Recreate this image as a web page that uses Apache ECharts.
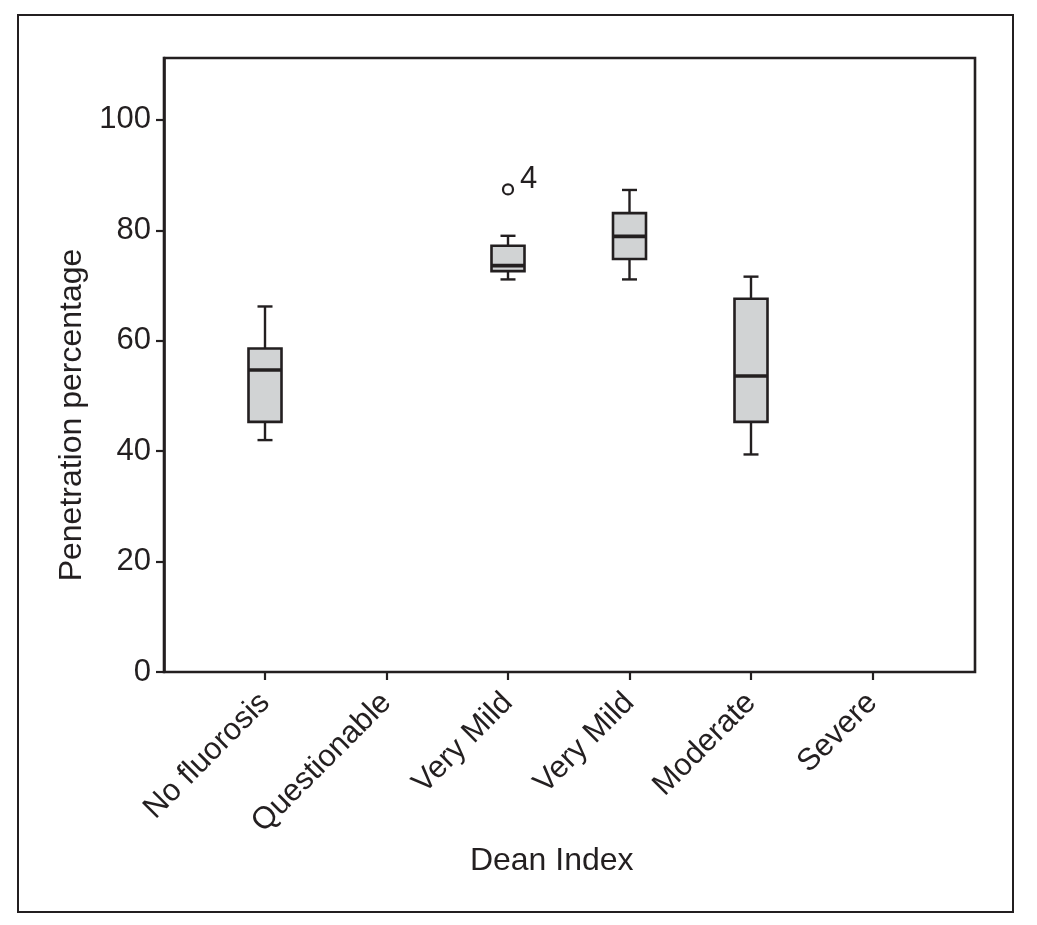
<!DOCTYPE html>
<html><head><meta charset="utf-8">
<script src="https://cdn.jsdelivr.net/npm/echarts@6/dist/echarts.min.js"></script>
<style>html,body{margin:0;padding:0;background:#fff}#c{width:1037px;height:925px}</style>
</head><body><div id="c"></div>
<script>
const categories = ['No fluorosis','Questionable','Very Mild','Very Mild','Moderate','Severe'];
const lowWhisker = [42.0, null, 71.1, 71.1, 39.4, null];
const q1 = [45.3, null, 72.6, 74.8, 45.3, null];
const median = [54.7, null, 73.6, 78.9, 53.6, null];
const q3 = [58.6, null, 77.2, 83.1, 67.6, null];
const highWhisker = [66.2, null, 79.0, 87.3, 71.6, null];
const outliers = [[2, 87.4, '4']];
const yTicks = [0, 20, 40, 60, 80, 100];
const yMax = 111.2;

const ink = '#231f20';
const font = 'Liberation Sans, Arial, Helvetica, sans-serif';

const boxData = [];
categories.forEach((c, i) => {
  if (median[i] != null) boxData.push([i, lowWhisker[i], q1[i], median[i], q3[i], highWhisker[i]]);
});

function renderBox(params, api) {
  const x = api.value(0);
  const pLow = api.coord([x, api.value(1)]);
  const pQ1 = api.coord([x, api.value(2)]);
  const pMed = api.coord([x, api.value(3)]);
  const pQ3 = api.coord([x, api.value(4)]);
  const pHigh = api.coord([x, api.value(5)]);
  const cx = pMed[0];
  const bw = 33, cw = 15;
  const ls = {stroke: ink, lineWidth: 2.4};
  return {type: 'group', children: [
    {type: 'line', shape: {x1: cx, y1: pLow[1], x2: cx, y2: pQ1[1]}, style: ls},
    {type: 'line', shape: {x1: cx, y1: pQ3[1], x2: cx, y2: pHigh[1]}, style: ls},
    {type: 'line', shape: {x1: cx - cw/2, y1: pLow[1], x2: cx + cw/2, y2: pLow[1]}, style: ls},
    {type: 'line', shape: {x1: cx - cw/2, y1: pHigh[1], x2: cx + cw/2, y2: pHigh[1]}, style: ls},
    {type: 'rect', shape: {x: cx - bw/2, y: pQ3[1], width: bw, height: pQ1[1] - pQ3[1]}, style: {fill: '#d1d3d4', stroke: ink, lineWidth: 2.6}},
    {type: 'line', shape: {x1: cx - bw/2, y1: pMed[1], x2: cx + bw/2, y2: pMed[1]}, style: {stroke: ink, lineWidth: 3.6}}
  ]};
}

const chart = echarts.init(document.getElementById('c'), null, {renderer: 'canvas'});
chart.setOption({
  backgroundColor: '#fff',
  animation: false,
  textStyle: {fontFamily: font, color: ink},
  graphic: [{type: 'rect', shape: {x: 18, y: 15, width: 995, height: 897}, style: {fill: null, stroke: ink, lineWidth: 2}}],
  grid: [
    {left: 164, top: 58, width: 811, height: 614, show: true, borderColor: ink, borderWidth: 2.6, backgroundColor: 'transparent'},
    {left: 204.25, top: 58, width: 729, height: 614}
  ],
  xAxis: [
    {gridIndex: 0, type: 'value', min: 0, max: 1, show: false},
    {gridIndex: 1, type: 'category', data: categories, boundaryGap: true,
     axisLine: {show: false},
     axisTick: {show: true, alignWithLabel: true, length: 8, lineStyle: {color: ink, width: 2.2}},
     axisLabel: {rotate: 45, fontSize: 31, color: ink, fontFamily: font, margin: 26, interval: 0},
     name: 'Dean Index', nameLocation: 'middle', nameGap: 161,
     nameTextStyle: {fontSize: 32, color: ink, fontFamily: font, padding: [0, 34, 0, 0]}}
  ],
  yAxis: [
    {gridIndex: 0, type: 'value', min: 0, max: yMax,
     axisLine: {show: true, lineStyle: {color: ink, width: 2.6}},
     axisTick: {show: true, length: 8, lineStyle: {color: ink, width: 2.2}, customValues: yTicks},
     axisLabel: {fontSize: 31, color: ink, fontFamily: font, margin: 13, customValues: yTicks},
     splitLine: {show: false},
     name: 'Penetration percentage', nameLocation: 'middle', nameGap: 76,
     nameTextStyle: {fontSize: 32, color: ink, fontFamily: font, padding: [0, 100, 0, 0]}},
    {gridIndex: 1, type: 'value', min: 0, max: yMax, show: false, splitLine: {show: false}}
  ],
  series: [
    {type: 'custom', xAxisIndex: 1, yAxisIndex: 1, data: boxData, renderItem: renderBox,
     encode: {x: 0, y: [1, 2, 3, 4, 5]}},
    {type: 'scatter', xAxisIndex: 1, yAxisIndex: 1, data: outliers.map(o => [o[0], o[1], o[2]]),
     symbol: 'circle', symbolSize: 10,
     itemStyle: {color: '#fff', borderColor: ink, borderWidth: 2.2, opacity: 1},
     label: {show: true, position: 'right', distance: 6, offset: [0, -10], formatter: p => p.value[2],
       fontSize: 31, color: ink, fontFamily: font, opacity: 1}}
  ]
});
</script></body></html>
